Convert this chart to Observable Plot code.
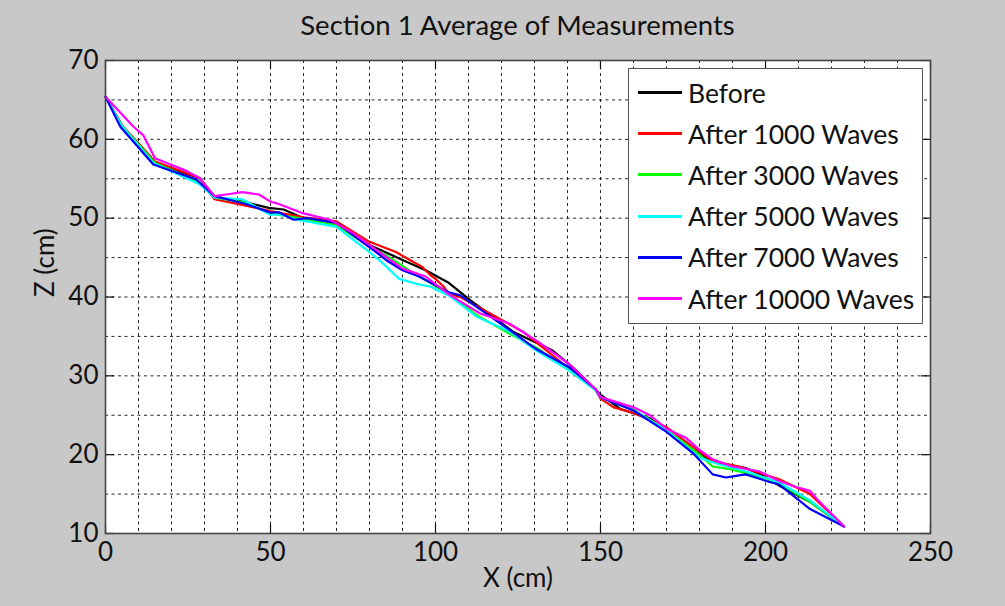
<!DOCTYPE html>
<html>
<head>
<meta charset="utf-8">
<script src="https://cdn.jsdelivr.net/npm/d3@7"></script>
<script src="https://cdn.jsdelivr.net/npm/@observablehq/plot@0.6"></script>
<style>
  html, body { margin: 0; padding: 0; }
  body { width: 1005px; height: 606px; background: #c8c8c8; font-family: Lato, "Open Sans", sans-serif; overflow: hidden; }
  #wrap { position: relative; width: 1005px; height: 606px; }
  #title { position: absolute; left: 105px; width: 825px; top: 0; height: 50px; line-height: 50px; text-align: center; font-size: 27.5px; color: #111; }
  #chart { position: absolute; left: 0; top: 50px; }
  #legend { position: absolute; left: 628px; top: 68px; width: 293px; height: 251px; background: #fff; border: 1.5px solid #555; padding-top: 3px; box-sizing: content-box; }
  .row { height: 41.2px; display: flex; align-items: center; font-size: 26.5px; color: #111; }
  .sw { width: 44px; height: 3px; margin-left: 9px; margin-right: 6px; }
</style>
</head>
<body>
<div id="wrap">
  <div id="title"></div>
  <div id="chart"></div>
  <div id="legend"></div>
</div>
<script>
const titleText = "Section 1 Average of Measurements";
const xLabel = "X (cm)";
const yLabel = "Z (cm)";
const xTickLabels = [0, 50, 100, 150, 200, 250];
const yTickLabels = [10, 20, 30, 40, 50, 60, 70];
const xGrid = [0,10,20,30,40,50,60,70,80,90,100,110,120,130,140,150,160,170,180,190,200,210,220,230,240,250];
const yGrid = [10,15,20,25,30,35,40,45,50,55,60,65,70];

const seriesNames = ["Before", "After 1000 Waves", "After 3000 Waves", "After 5000 Waves", "After 7000 Waves", "After 10000 Waves"];
const seriesColors = ["#000000", "#ff0000", "#00ff00", "#00ffff", "#0000ff", "#ff00ff"];

const beforeX = [0, 5.5, 15, 28.5, 33, 42.5, 49.5, 54, 60, 70, 80, 90, 97, 104, 110.5, 123.5, 135.5, 141.5, 148.5, 150, 156, 165, 178, 184, 190, 194, 198.5, 204.5, 213.5, 223.8];
const beforeZ = [65.4, 61.4, 56.8, 55.1, 52.75, 52.0, 51.3, 51.1, 50.0, 49.4, 46.6, 44.7, 43.4, 41.8, 39.6, 35.6, 33.2, 31.1, 28.3, 27.6, 25.8, 24.6, 20.6, 19.2, 18.6, 18.3, 17.5, 16.0, 14.0, 10.9];

const a1000X = [0, 5, 15, 28.5, 33, 42.5, 50, 60, 70, 80, 88, 96, 98.5, 100, 102.5, 104, 107.5, 126.5, 140.5, 148.5, 150, 154, 160, 170, 178, 184, 192, 204, 213.5, 223.8];
const a1000Z = [65.4, 61.8, 57.2, 55.1, 52.4, 51.6, 50.9, 50.1, 49.6, 47.0, 45.7, 43.8, 42.75, 42.3, 41.3, 40.4, 40.0, 35.6, 30.9, 28.3, 27.1, 26.0, 25.3, 23.5, 21.0, 19.2, 18.5, 16.9, 15.0, 10.9];

const a3000X = [0, 5, 15, 28.5, 33, 42, 50, 60, 70, 80, 85, 92, 104, 112.5, 123.5, 130.5, 140.5, 148.5, 150, 160, 170, 180, 184, 190, 199, 204, 213.5, 223.8];
const a3000Z = [65.4, 61.7, 57.0, 54.6, 52.6, 52.0, 50.6, 49.9, 49.1, 46.4, 45.3, 43.4, 40.4, 37.7, 35.1, 33.6, 30.7, 28.2, 27.3, 25.7, 23.1, 20.0, 18.5, 18.1, 17.1, 16.4, 14.0, 10.9];

const a5000X = [0, 5, 14.5, 28.5, 33, 41.5, 50, 52.5, 58, 70, 80, 84, 89, 94, 98.5, 104, 112.5, 122.5, 130.5, 140.5, 148.5, 150, 160, 170, 180, 186, 194, 204, 213.5, 223.8];
const a5000Z = [65.4, 61.7, 57.0, 54.3, 52.6, 52.4, 50.4, 50.5, 49.8, 48.9, 45.7, 44.3, 42.3, 41.7, 41.3, 40.2, 37.5, 35.6, 33.2, 30.7, 28.2, 27.3, 25.6, 23.1, 19.6, 18.75, 17.9, 16.5, 14.2, 10.9];

const a7000X = [0, 4.5, 14.5, 27.5, 33, 42.5, 50, 52.5, 57, 61, 70, 82, 85, 90, 95, 104, 107.5, 122.5, 130.5, 140.5, 148.5, 150, 160, 170, 178, 184, 188, 191, 194, 201.5, 204, 213.5, 223.8];
const a7000Z = [65.4, 61.6, 56.8, 54.9, 52.8, 51.8, 50.7, 50.75, 49.8, 50.0, 49.4, 45.7, 44.7, 43.4, 42.6, 40.6, 40.2, 35.8, 33.4, 31.1, 28.3, 27.3, 25.6, 22.9, 20.2, 17.5, 17.1, 17.3, 17.5, 16.5, 16.25, 13.1, 10.9];

const a10000X = [0, 8.5, 11.5, 15, 24.5, 28.5, 33, 36.5, 41.5, 46.5, 50, 52.5, 60, 68, 75, 83, 90, 97, 98.5, 104.5, 113.5, 122.5, 130.5, 140.5, 148.5, 150, 160, 165, 170, 176, 180, 184, 190, 198, 204, 208.5, 213.5, 215.5, 223.8];
const a10000Z = [65.4, 61.6, 60.5, 57.6, 56.0, 55.1, 52.8, 53.0, 53.3, 53.0, 52.1, 51.8, 50.6, 49.8, 48.1, 45.7, 43.6, 42.6, 42.1, 40.2, 37.9, 36.6, 34.5, 31.5, 28.3, 27.3, 26.0, 25.0, 23.3, 22.1, 20.6, 19.4, 18.5, 17.9, 16.7, 16.0, 15.4, 14.4, 10.9];

const seriesX = [beforeX, a1000X, a3000X, a5000X, a7000X, a10000X];
const seriesZ = [beforeZ, a1000Z, a3000Z, a5000Z, a7000Z, a10000Z];

const rows = [];
seriesNames.forEach((name, i) => {
  seriesX[i].forEach((x, j) => rows.push({series: name, x, z: seriesZ[i][j]}));
});

document.getElementById("title").textContent = titleText;

const W = 1005, H = 556, mL = 105, mR = 75, mT = 10, mB = 73;
const innerH = H - mT - mB, innerW = W - mL - mR;
const frameColor = "#444";

const plot = Plot.plot({
  width: W, height: H,
  marginLeft: mL, marginRight: mR, marginTop: mT, marginBottom: mB,
  style: {background: "transparent", fontFamily: "Lato, 'Open Sans', sans-serif", fontSize: "26px", color: "#111", overflow: "visible"},
  x: {domain: [0, 250]},
  y: {domain: [10, 70]},
  color: {domain: seriesNames, range: seriesColors},
  marks: [
    Plot.frame({fill: "#fff"}),
    Plot.gridX(xGrid, {stroke: "#000", strokeOpacity: 0.85, strokeDasharray: "3,3.5", strokeWidth: 1}),
    Plot.gridY(yGrid, {stroke: "#000", strokeOpacity: 0.85, strokeDasharray: "3,3.5", strokeWidth: 1}),
    Plot.tickX(xTickLabels, {x: d => d, insetTop: innerH - 9, stroke: "#111", strokeWidth: 1.2}),
    Plot.tickX(xTickLabels, {x: d => d, insetBottom: innerH - 9, stroke: "#111", strokeWidth: 1.2}),
    Plot.tickY(yTickLabels, {y: d => d, insetRight: innerW - 9, stroke: "#111", strokeWidth: 1.2}),
    Plot.tickY(yTickLabels, {y: d => d, insetLeft: innerW - 9, stroke: "#111", strokeWidth: 1.2}),
    Plot.line(rows, {x: "x", y: "z", z: "series", stroke: "series", strokeWidth: 2.2, curve: "linear"}),
    Plot.frame({stroke: frameColor, strokeWidth: 1.6}),
    Plot.axisX(xTickLabels, {tickSize: 0, tickPadding: 9, label: null, fontSize: 26}),
    Plot.axisY(yTickLabels, {tickSize: 0, tickPadding: 7, label: null, fontSize: 26}),
    Plot.text([xLabel], {frameAnchor: "bottom", dy: 53, text: d => d, fontSize: 26}),
    Plot.text([yLabel], {frameAnchor: "left", dx: -60, rotate: -90, text: d => d, fontSize: 26})
  ]
});
document.getElementById("chart").appendChild(plot);

const legend = document.getElementById("legend");
seriesNames.forEach((name, i) => {
  const r = document.createElement("div");
  r.className = "row";
  const sw = document.createElement("div");
  sw.className = "sw";
  sw.style.background = seriesColors[i];
  const t = document.createElement("span");
  t.textContent = name;
  r.appendChild(sw);
  r.appendChild(t);
  legend.appendChild(r);
});
</script>
</body>
</html>
